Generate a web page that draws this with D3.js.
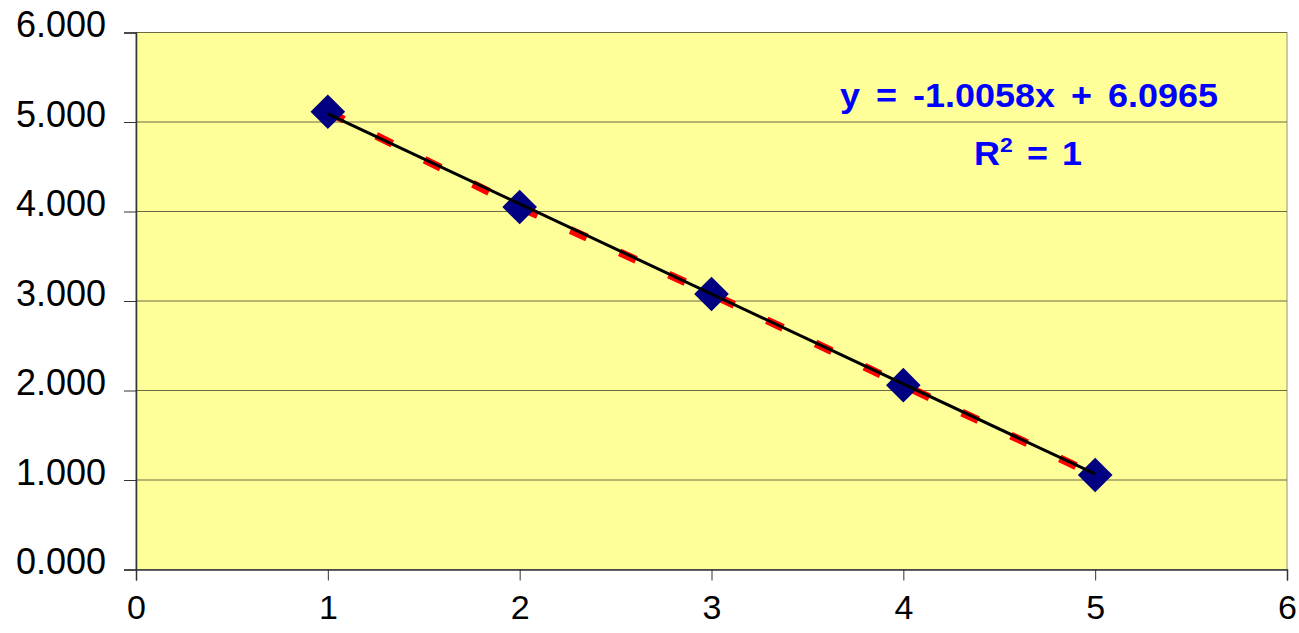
<!DOCTYPE html>
<html><head><meta charset="utf-8">
<script src="https://cdn.jsdelivr.net/npm/d3@7"></script>
<style>body{margin:0;background:#fff}svg{display:block}</style>
</head><body>
<svg id="c" width="1299" height="633"></svg>
<script>
const xValues = [1, 2, 3, 4, 5];
const yValues = [5.115, 4.05, 3.078, 2.06, 1.056];
const slope = -1.0058, intercept = 6.0965;
const xTicks = [0, 1, 2, 3, 4, 5, 6];
const yTicks = [0, 1, 2, 3, 4, 5, 6];
const eqText = "y = -1.0058x + 6.0965";

const svg = d3.select("#c");
const L = 136, R = 1287, T = 32.5, B = 569.5;
const x = d3.scaleLinear().domain([0, 6]).range([L, R]);
const y = d3.scaleLinear().domain([0, 6]).range([B, T]);

svg.append("rect").attr("x", L).attr("y", T).attr("width", R - L).attr("height", B - T)
  .attr("fill", "#FFFF99").attr("stroke", "#909090").attr("stroke-width", 1);

// gridlines
svg.append("g").selectAll("line").data(yTicks.filter(d => d > 0)).join("line")
  .attr("x1", L).attr("x2", R).attr("y1", d => y(d)).attr("y2", d => y(d))
  .attr("stroke", "#6b6b45").attr("stroke-width", 1);

// axes
const yAxis = d3.axisLeft(y).tickValues(yTicks).tickSize(12).tickPadding(18).tickFormat(d3.format(".3f"));
const gy = svg.append("g").attr("transform", `translate(${L},0)`).call(yAxis);
gy.select(".domain").attr("stroke", "#333").attr("stroke-width", 1.5);
gy.selectAll(".tick line").attr("stroke", "#333");
gy.selectAll("text").attr("font-family", "Liberation Sans, Arial, sans-serif").attr("font-size", 36)
  .attr("fill", "#000").attr("dy", "0.0em").attr("y", 4);

const xAxis = d3.axisBottom(x).tickValues(xTicks).tickSize(11).tickPadding(14).tickFormat(d3.format("d"));
const gx = svg.append("g").attr("transform", `translate(0,${B})`).call(xAxis);
gx.select(".domain").attr("stroke", "#333").attr("stroke-width", 1.5);
gx.selectAll(".tick line").attr("stroke", "#333");
gx.selectAll("text").attr("font-family", "Liberation Sans, Arial, sans-serif").attr("font-size", 34).attr("fill", "#000");

// red dashed series line
const line = d3.line().x(d => x(d[0])).y(d => y(d[1]));
const pts = xValues.map((v, i) => [v, yValues[i]]);
svg.append("path").datum(pts).attr("d", line).attr("fill", "none")
  .attr("stroke", "#FF0000").attr("stroke-width", 8).attr("stroke-dasharray", "18,36").attr("stroke-dashoffset", 0);

// markers
svg.append("g").selectAll("path").data(pts).join("path")
  .attr("d", d3.symbol().type(d3.symbolSquare).size(600))
  .attr("transform", d => `translate(${x(d[0])},${y(d[1])}) rotate(45)`)
  .attr("fill", "#000080");

// trendline
const xr = d3.extent(xValues);
svg.append("path").datum(xr.map(v => [v, slope * v + intercept])).attr("d", line)
  .attr("fill", "none").attr("stroke", "#000").attr("stroke-width", 3);

// equation
const eq = svg.append("g").attr("font-family", "Liberation Sans, Arial, sans-serif")
  .attr("font-weight", "bold").attr("fill", "#0000FF").attr("text-anchor", "middle")
  .attr("font-size", 36).attr("word-spacing", 6);
eq.append("text").attr("transform", "translate(1029,107) scale(1,0.9)").text(eqText);
const r2 = eq.append("text").attr("transform", "translate(1028,165) scale(1,0.9)").attr("word-spacing", 4);
r2.append("tspan").text("R");
r2.append("tspan").attr("font-size", 23).attr("dy", -14).text("2");
r2.append("tspan").attr("dy", 14).text(" = 1");
</script>
</body></html>
